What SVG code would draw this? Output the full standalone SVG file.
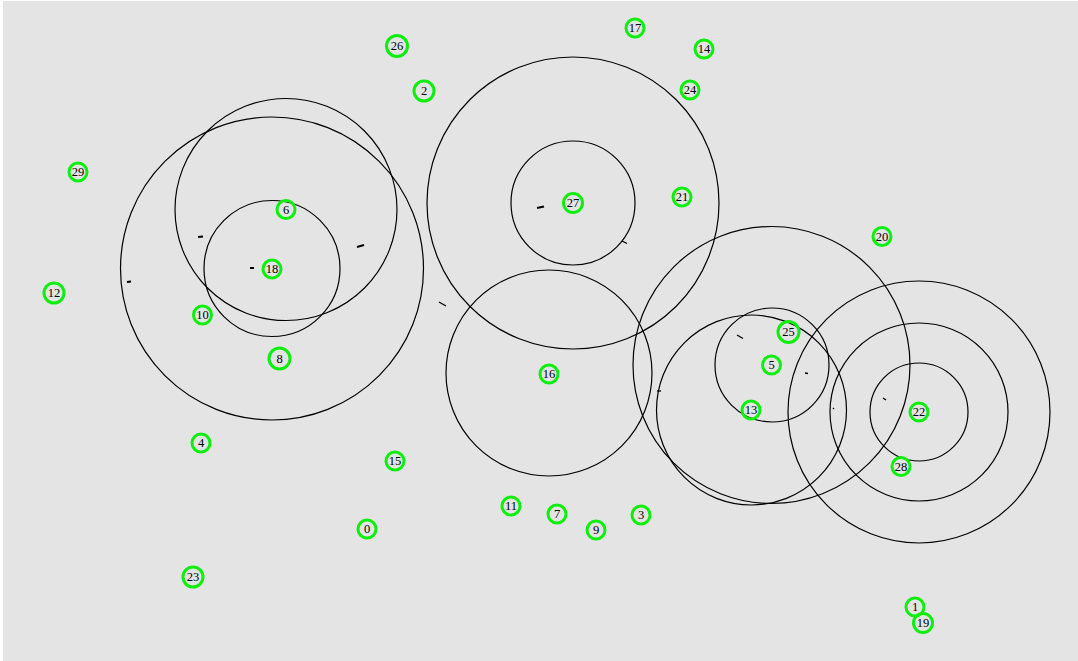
<svg xmlns="http://www.w3.org/2000/svg" width="1078" height="661" viewBox="0 0 1078 661">
<style>
.ring{fill:none;stroke:#000;stroke-width:1.2}
.dash{stroke:#000;stroke-width:2;stroke-linecap:butt}
.node circle{fill:none;stroke:#10ee10;stroke-width:3}
.node text{font-family:"Liberation Serif",serif;font-size:12.5px;fill:#000;text-anchor:middle;dominant-baseline:central}
</style>
<rect x="0" y="0" width="1078" height="661" fill="#ffffff"/>
<rect x="3" y="1" width="1075" height="660" fill="#e4e4e4"/>
<g id="connectors">
<circle class="ring" cx="272" cy="268.5" r="151.5"/>
<circle class="ring" cx="286" cy="209.5" r="111"/>
<circle class="ring" cx="272" cy="268.5" r="68"/>
<circle class="ring" cx="573" cy="203" r="146"/>
<circle class="ring" cx="573" cy="203" r="62"/>
<circle class="ring" cx="549" cy="373" r="103"/>
<circle class="ring" cx="771.5" cy="365" r="138.5"/>
<circle class="ring" cx="751.5" cy="410" r="95"/>
<circle class="ring" cx="772" cy="365" r="57"/>
<circle class="ring" cx="919" cy="412" r="131"/>
<circle class="ring" cx="919" cy="412" r="89"/>
<circle class="ring" cx="919" cy="412" r="49"/>
<line class="dash" x1="198" y1="237" x2="203" y2="236.5"/>
<line class="dash" x1="127" y1="282" x2="131" y2="281.5"/>
<line class="dash" x1="250" y1="268" x2="254" y2="268"/>
<line class="dash" x1="357" y1="247" x2="364" y2="245"/>
<line class="dash" x1="439" y1="302" x2="446" y2="306" style="stroke-width:1.3"/>
<line class="dash" x1="537" y1="208" x2="544" y2="206.5"/>
<line class="dash" x1="622" y1="241" x2="627" y2="243.5" style="stroke-width:1.3"/>
<line class="dash" x1="737" y1="335" x2="743" y2="338.5" style="stroke-width:1.3"/>
<line class="dash" x1="805" y1="373" x2="808" y2="373.5" style="stroke-width:1.3"/>
<line class="dash" x1="657" y1="391" x2="661" y2="391" style="stroke-width:1.3"/>
<line class="dash" x1="833" y1="408" x2="834" y2="409" style="stroke-width:1.3"/>
<line class="dash" x1="883" y1="398" x2="886" y2="400" style="stroke-width:1.3"/>
</g>
<g id="n0" class="node"><circle cx="367" cy="529" r="9"/><text x="367" y="529">0</text></g>
<g id="n1" class="node"><circle cx="915" cy="607" r="9"/><text x="915" y="607">1</text></g>
<g id="n2" class="node"><circle cx="424" cy="91" r="10"/><text x="424" y="91">2</text></g>
<g id="n3" class="node"><circle cx="641" cy="515" r="9"/><text x="641" y="515">3</text></g>
<g id="n4" class="node"><circle cx="201" cy="443" r="9"/><text x="201" y="443">4</text></g>
<g id="n5" class="node"><circle cx="771.5" cy="365" r="9"/><text x="771.5" y="365">5</text></g>
<g id="n6" class="node"><circle cx="286" cy="209.5" r="9"/><text x="286" y="209.5">6</text></g>
<g id="n7" class="node"><circle cx="557" cy="514" r="9"/><text x="557" y="514">7</text></g>
<g id="n8" class="node"><circle cx="279.5" cy="358.5" r="10.5"/><text x="279.5" y="358.5">8</text></g>
<g id="n9" class="node"><circle cx="596" cy="530" r="9"/><text x="596" y="530">9</text></g>
<g id="n10" class="node"><circle cx="202.5" cy="315" r="9"/><text x="202.5" y="315">10</text></g>
<g id="n11" class="node"><circle cx="511" cy="506" r="9"/><text x="511" y="506">11</text></g>
<g id="n12" class="node"><circle cx="54" cy="293" r="10"/><text x="54" y="293">12</text></g>
<g id="n13" class="node"><circle cx="751" cy="410" r="9"/><text x="751" y="410">13</text></g>
<g id="n14" class="node"><circle cx="704" cy="49" r="9"/><text x="704" y="49">14</text></g>
<g id="n15" class="node"><circle cx="395" cy="461" r="9"/><text x="395" y="461">15</text></g>
<g id="n16" class="node"><circle cx="549" cy="374" r="9"/><text x="549" y="374">16</text></g>
<g id="n17" class="node"><circle cx="635" cy="28" r="9"/><text x="635" y="28">17</text></g>
<g id="n18" class="node"><circle cx="272" cy="269" r="9"/><text x="272" y="269">18</text></g>
<g id="n19" class="node"><circle cx="923" cy="623" r="9.5"/><text x="923" y="623">19</text></g>
<g id="n20" class="node"><circle cx="882" cy="236.5" r="9"/><text x="882" y="236.5">20</text></g>
<g id="n21" class="node"><circle cx="682" cy="197" r="9"/><text x="682" y="197">21</text></g>
<g id="n22" class="node"><circle cx="919" cy="412" r="9"/><text x="919" y="412">22</text></g>
<g id="n23" class="node"><circle cx="193" cy="577" r="10"/><text x="193" y="577">23</text></g>
<g id="n24" class="node"><circle cx="690" cy="90" r="9"/><text x="690" y="90">24</text></g>
<g id="n25" class="node"><circle cx="788.5" cy="332" r="10.5"/><text x="788.5" y="332">25</text></g>
<g id="n26" class="node"><circle cx="397" cy="46" r="10.5"/><text x="397" y="46">26</text></g>
<g id="n27" class="node"><circle cx="573" cy="203" r="9.5"/><text x="573" y="203">27</text></g>
<g id="n28" class="node"><circle cx="901" cy="466.5" r="9"/><text x="901" y="466.5">28</text></g>
<g id="n29" class="node"><circle cx="78" cy="172" r="9"/><text x="78" y="172">29</text></g>
</svg>
